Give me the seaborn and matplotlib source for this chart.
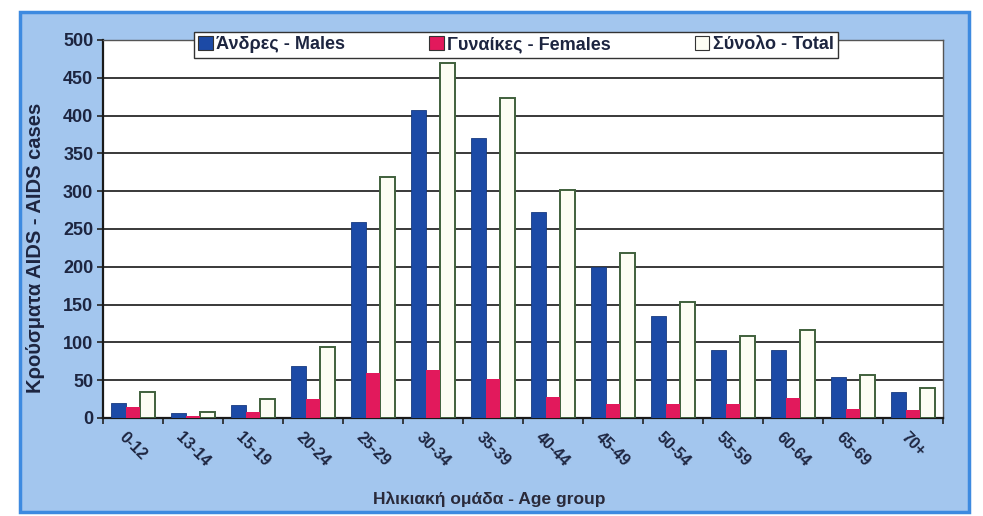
import matplotlib
matplotlib.use("Agg")
import matplotlib.pyplot as plt
from matplotlib.patches import Rectangle
import seaborn as sns
import pandas as pd

# Age groups and AIDS cases per group
age_groups = ["0-12", "13-14", "15-19", "20-24", "25-29", "30-34", "35-39",
              "40-44", "45-49", "50-54", "55-59", "60-64", "65-69", "70+"]
males = [20, 6, 17, 69, 259, 407, 371, 273, 200, 135, 90, 90, 54, 35]
females = [14, 2, 8, 25, 60, 63, 52, 28, 18, 19, 19, 27, 12, 10]
totals = [34, 8, 25, 94, 319, 470, 423, 301, 218, 154, 109, 117, 57, 39]
series_names = ["Άνδρες - Males", "Γυναίκες - Females", "Σύνολο - Total"]
y_ticks = [0, 50, 100, 150, 200, 250, 300, 350, 400, 450, 500]

sns.set_theme(style="white")
FONT = ["Liberation Sans", "DejaVu Sans"]
plt.rcParams["font.family"] = FONT

df = pd.DataFrame({
    "age": age_groups * 3,
    "cases": males + females + totals,
    "series": [series_names[0]] * len(age_groups)
              + [series_names[1]] * len(age_groups)
              + [series_names[2]] * len(age_groups),
})

fig = plt.figure(figsize=(9.83, 5.16), dpi=100)
fig.patch.set_facecolor("white")

# light-blue chart panel behind the axes
panel = Rectangle((0.0203, 0.008), 0.965, 0.969, transform=fig.transFigure,
                  facecolor="#a3c6ee", edgecolor="#3d8ae0", linewidth=2.5,
                  zorder=-10)
fig.patches.append(panel)

ax = fig.add_axes([0.1048, 0.190, 0.8545, 0.7325])
ax.set_zorder(2)
ax.set_facecolor("white")

palette = {series_names[0]: "#1c4aa6", series_names[1]: "#e2195c",
           series_names[2]: "#fdfdf4"}
sns.barplot(data=df, x="age", y="cases", hue="series", palette=palette,
            width=0.74, saturation=1, ax=ax, zorder=3, linewidth=0)

for bar in ax.containers[2]:
    bar.set_edgecolor("#40603c")
    bar.set_linewidth(1.4)
for bar in ax.containers[0]:
    bar.set_edgecolor("#173a80")
    bar.set_linewidth(0.6)
for bar in ax.containers[1]:
    bar.set_zorder(4)

handles, labels = ax.get_legend_handles_labels()
if ax.get_legend() is not None:
    ax.get_legend().remove()
for h in handles:
    h.set_linewidth(0.8)
    h.set_edgecolor("#333333")

ax.set_ylim(0, 500)
ax.set_xlim(-0.5, len(age_groups) - 0.5)
ax.set_yticks(y_ticks)
ax.set_yticklabels([str(v) for v in y_ticks], fontsize=13, fontweight="bold",
                   color="#1d2540")
ax.yaxis.grid(True, color="#2a2a2a", linewidth=1.3, zorder=0)
ax.set_axisbelow(True)

# category ticks between groups, labels centred on each group
ax.set_xticks([i + 0.5 for i in range(-1, len(age_groups))], minor=False)
ax.set_xticklabels([])
ax.set_xticks(range(len(age_groups)), minor=True)
ax.set_xticklabels(age_groups, minor=True, rotation=-45, ha="center", va="top",
                   fontsize=11.5, fontweight="bold", color="#1d2540")
ax.tick_params(axis="x", which="major", direction="out", length=4, width=1.2,
               color="#222222", bottom=True)
ax.tick_params(axis="x", which="minor", length=0, pad=8)
ax.tick_params(axis="y", direction="out", length=4, width=1.2, color="#222222",
               left=True, pad=3)

for side in ["left", "bottom"]:
    ax.spines[side].set_color("#1a1a1a")
    ax.spines[side].set_linewidth(1.6)
for side in ["top", "right"]:
    ax.spines[side].set_color("#555555")
    ax.spines[side].set_linewidth(1.0)

ax.set_ylabel("Κρούσματα AIDS - AIDS cases", fontsize=14.5, fontweight="bold",
              color="#1d2540")
ax.yaxis.set_label_coords(-0.069, 0.45)
ax.set_xlabel("Ηλικιακή ομάδα - Age group", fontsize=12.5, fontweight="bold",
              color="#2a2a3a")
ax.xaxis.set_label_coords(0.46, -0.195)

leg = fig.legend(handles, labels, loc="lower left", ncol=3, mode="expand",
                 bbox_to_anchor=(0.197, 0.888, 0.656, 0.058),
                 fontsize=13, frameon=True, fancybox=False, framealpha=1,
                 handlelength=0.8, handleheight=0.8, handletextpad=0.2,
                 borderpad=0.25, borderaxespad=0)
leg.get_frame().set_edgecolor("#333333")
leg.get_frame().set_linewidth(1.0)
leg.get_frame().set_facecolor("white")
for t in leg.get_texts():
    t.set_fontweight("bold")
    t.set_color("#1d2540")
leg.set_zorder(10)

fig.savefig("out.png", dpi=100, facecolor="white")
